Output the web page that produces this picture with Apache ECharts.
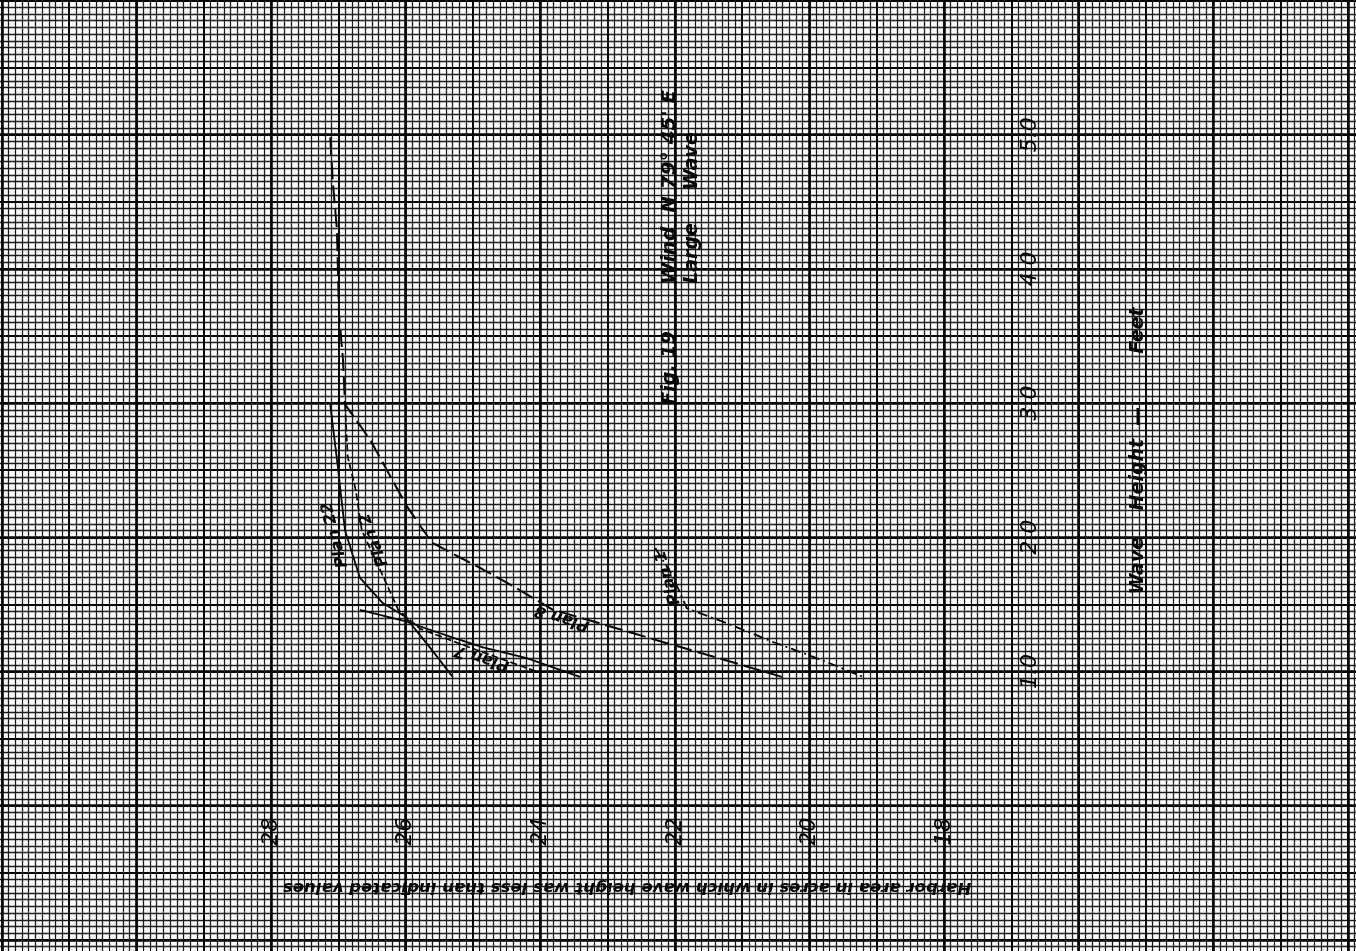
<!DOCTYPE html>
<html><head><meta charset="utf-8">
<script src="https://cdn.jsdelivr.net/npm/echarts@6/dist/echarts.min.js"></script>
<style>html,body{margin:0;padding:0;background:#fff;}#chart{width:1356px;height:951px;}</style>
</head><body><div id="chart"></div>
<script>
// ---- tick labels ----
const acreTicks = [18, 20, 22, 24, 26, 28];
const heightTicks = [1, 2, 3, 4, 5];

// ---- series: harbor area (acres) vs wave height (feet) ----
const plan8Acres  = [27.12, 27.08, 27.02, 26.99, 26.93, 26.90, 26.53, 25.98, 25.61, 24.85, 24.45, 23.81, 22.92, 22.18, 21.28, 20.41];
const plan8Height = [4.98, 4.64, 4.29, 3.67, 3.32, 2.99, 2.73, 2.23, 1.96, 1.76, 1.65, 1.46, 1.33, 1.22, 1.09, 0.96];

const plan22Acres  = [27.12, 27.02, 26.90, 26.68, 26.34, 26.01, 25.64, 25.30];
const plan22Height = [2.99, 2.58, 2.05, 1.70, 1.51, 1.41, 1.18, 0.96];

const plan2Acres  = [26.90, 26.86, 26.74, 26.65, 26.38, 26.11, 25.79, 24.89, 24.00];
const plan2Height = [2.99, 2.60, 2.35, 2.05, 1.76, 1.46, 1.32, 1.15, 0.99];

const plan7Acres  = [26.68, 26.04, 25.34, 24.85, 24.20, 23.41];
const plan7Height = [1.46, 1.38, 1.26, 1.18, 1.10, 0.96];

const plan1Acres  = [22.29, 22.04, 21.82, 21.28, 20.54, 19.84, 19.20];
const plan1Height = [1.92, 1.72, 1.47, 1.37, 1.22, 1.09, 0.96];

const pairs = (a, h) => a.map((v, i) => [v, h[i]]);

const chart = echarts.init(document.getElementById('chart'), null, {renderer: 'canvas'});

const xCommon = {type: 'value', min: 10, max: 34, inverse: true,
  axisLine: {show: false, onZero: false}, axisTick: {show: false}};
const yCommon = {type: 'value', min: -2, max: 7,
  axisLine: {show: false, onZero: false}, axisTick: {show: false}};

const tickFont = {fontSize: 22, fontStyle: 'italic', fontFamily: 'DejaVu Sans', color: '#000'};
const boldIt = (size) => `italic bold ${size}px "DejaVu Sans", "Liberation Sans", sans-serif`;

function txt(text, x, y, rot, size) {
  return {type: 'text', x: x, y: y, rotation: rot, z: 100,
    style: {text: text, font: boldIt(size), fill: '#000',
      align: 'center', verticalAlign: 'middle', textAlign: 'center', textVerticalAlign: 'middle'}};
}

const lineSeries = (name, a, h, type, width) => ({
  name: name, type: 'line', xAxisIndex: 0, yAxisIndex: 0, data: pairs(a, h),
  showSymbol: false, symbol: 'none', smooth: false, silent: true, z: 10,
  lineStyle: {color: '#000', width: width, type: type}
});

chart.setOption({
  animation: false,
  backgroundColor: '#fff',
  grid: {left: -132.8, right: -126.4, top: -133.7, bottom: -123.1, containLabel: false, outerBoundsMode: 'none'},
  xAxis: [
    Object.assign({}, xCommon, {interval: 1,
      axisLabel: {show: false},
      splitLine: {show: true, lineStyle: {color: '#000', width: 2}},
      minorTick: {show: false, splitNumber: 10},
      minorSplitLine: {show: true, lineStyle: {color: '#1a1a1a', width: 1.3}}}),
    Object.assign({}, xCommon, {interval: 2, position: 'bottom', offset: -268.4,
      splitLine: {show: true, lineStyle: {color: '#000', width: 2.6}},
      axisLabel: Object.assign({show: true, rotate: 90, margin: 12,
        formatter: v => acreTicks.includes(v) ? String(v) : ''}, tickFont)})
  ],
  yAxis: [
    Object.assign({}, yCommon, {interval: 0.5,
      axisLabel: {show: false},
      splitLine: {show: true, lineStyle: {color: '#000', width: 2}},
      minorTick: {show: false, splitNumber: 10},
      minorSplitLine: {show: true, lineStyle: {color: '#1a1a1a', width: 1.3}}}),
    Object.assign({}, yCommon, {interval: 1, position: 'right', offset: -471.1,
      splitLine: {show: true, lineStyle: {color: '#000', width: 2.6}},
      axisLabel: Object.assign({show: true, rotate: 90, margin: 8,
        formatter: v => heightTicks.includes(v) ? v.toFixed(1) : ''}, tickFont)})
  ],
  series: [
    lineSeries('Plan 8', plan8Acres, plan8Height, [18, 6], 2),
    lineSeries('Plan 22', plan22Acres, plan22Height, 'solid', 1.8),
    lineSeries('Plan 2', plan2Acres, plan2Height, [7, 3], 1.7),
    lineSeries('Plan 7', plan7Acres, plan7Height, 'solid', 1.8),
    lineSeries('Plan 1', plan1Acres, plan1Height, [10, 4, 2, 4], 1.8)
  ],
  graphic: [
    txt('Fig. 19', 670, 368, Math.PI / 2, 19),
    txt('Wind  N 79° 45\' E', 670, 187, Math.PI / 2, 20),
    txt('Large     Wave', 692, 208, Math.PI / 2, 19),
    txt('Wave    Height  —        Feet', 1138, 451, Math.PI / 2, 19),
    txt('Harbor area in acres in which wave height was less than indicated values', 627, 887, Math.PI, 16.6),
    txt('Plan 8', 562, 618, Math.PI - 0.30, 16),
    txt('Plan 7', 482, 658, Math.PI - 0.30, 16),
    txt('Plan 22', 335, 535, 1.82, 16),
    txt('Plan 2', 374, 540, 1.93, 16),
    txt('Plan 1', 668, 578, 1.85, 16)
  ]
});
</script></body></html>
